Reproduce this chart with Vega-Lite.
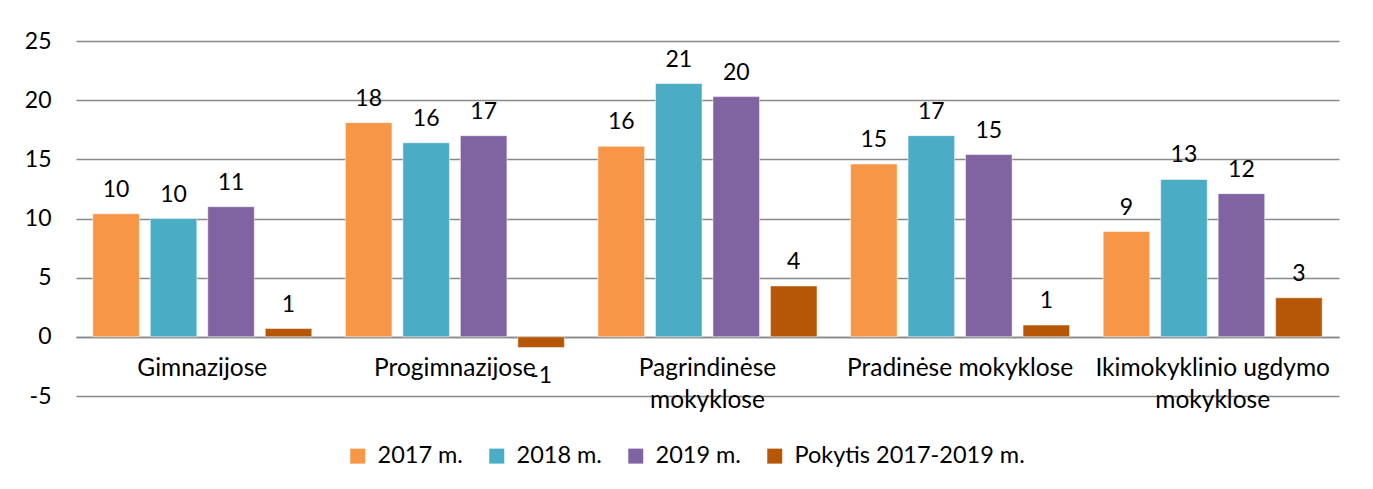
{
  "$schema": "https://vega.github.io/schema/vega-lite/v6.json",
  "autosize": "none",
  "width": 1263,
  "height": 355,
  "padding": {"left": 76, "top": 41, "right": 34, "bottom": 93},
  "background": "white",
  "config": {
    "font": "Lato",
    "view": {"stroke": null},
    "locale": {"number": {"decimal": ".", "thousands": ",", "grouping": [3], "currency": ["", ""], "minus": "-"}}
  },
  "data": {
    "values": [
      {"category": "Gimnazijose", "series": "2017 m.", "value": 10.4},
      {"category": "Gimnazijose", "series": "2018 m.", "value": 10.0},
      {"category": "Gimnazijose", "series": "2019 m.", "value": 11.0},
      {"category": "Gimnazijose", "series": "Pokytis 2017-2019 m.", "value": 0.7},
      {"category": "Progimnazijose", "series": "2017 m.", "value": 18.1},
      {"category": "Progimnazijose", "series": "2018 m.", "value": 16.4},
      {"category": "Progimnazijose", "series": "2019 m.", "value": 17.0},
      {"category": "Progimnazijose", "series": "Pokytis 2017-2019 m.", "value": -0.9},
      {"category": "Pagrindinėse mokyklose", "series": "2017 m.", "value": 16.1},
      {"category": "Pagrindinėse mokyklose", "series": "2018 m.", "value": 21.4},
      {"category": "Pagrindinėse mokyklose", "series": "2019 m.", "value": 20.3},
      {"category": "Pagrindinėse mokyklose", "series": "Pokytis 2017-2019 m.", "value": 4.3},
      {"category": "Pradinėse mokyklose", "series": "2017 m.", "value": 14.6},
      {"category": "Pradinėse mokyklose", "series": "2018 m.", "value": 17.0},
      {"category": "Pradinėse mokyklose", "series": "2019 m.", "value": 15.4},
      {"category": "Pradinėse mokyklose", "series": "Pokytis 2017-2019 m.", "value": 1.0},
      {"category": "Ikimokyklinio ugdymo mokyklose", "series": "2017 m.", "value": 8.9},
      {"category": "Ikimokyklinio ugdymo mokyklose", "series": "2018 m.", "value": 13.3},
      {"category": "Ikimokyklinio ugdymo mokyklose", "series": "2019 m.", "value": 12.1},
      {"category": "Ikimokyklinio ugdymo mokyklose", "series": "Pokytis 2017-2019 m.", "value": 3.3}
    ]
  },
  "encoding": {
    "x": {
      "field": "category",
      "type": "nominal",
      "sort": null,
      "scale": {"paddingInner": 0.133, "paddingOuter": 0.0665},
      "axis": {
        "title": null,
        "orient": "bottom",
        "offset": -59,
        "labelAngle": 0,
        "ticks": false,
        "domain": true,
        "domainColor": "#898989",
        "domainWidth": 1.5,
        "labelFont": "Lato",
        "labelFontSize": 24.5,
        "labelColor": "#000000",
        "labelPadding": 19,
        "labelLineHeight": 32,
        "labelLimit": 400,
        "labelExpr": "datum.label == 'Pagrindinėse mokyklose' ? ['Pagrindinėse', 'mokyklose'] : datum.label == 'Ikimokyklinio ugdymo mokyklose' ? ['Ikimokyklinio ugdymo', 'mokyklose'] : datum.label"
      }
    },
    "xOffset": {
      "field": "series",
      "type": "nominal",
      "sort": null,
      "scale": {"paddingInner": 0.19, "paddingOuter": 0}
    },
    "y": {
      "field": "value",
      "type": "quantitative",
      "scale": {"domain": [-5, 25], "nice": false, "zero": false},
      "axis": {
        "title": null,
        "values": [-5, 0, 5, 10, 15, 20, 25],
        "ticks": false,
        "domain": false,
        "grid": true,
        "gridColor": "#898989",
        "gridWidth": 1.5,
        "labelFont": "Lato",
        "labelFontSize": 23,
        "labelColor": "#000000",
        "labelPadding": 25
      }
    }
  },
  "layer": [
    {
      "mark": {"type": "bar", "stroke": "#ffffff", "strokeOpacity": 0.5, "strokeWidth": 1},
      "encoding": {
        "color": {
          "field": "series",
          "type": "nominal",
          "sort": null,
          "scale": {
            "domain": ["2017 m.", "2018 m.", "2019 m.", "Pokytis 2017-2019 m."],
            "range": ["#F79646", "#4BACC6", "#8064A2", "#B65708"]
          },
          "legend": {
            "title": null,
            "orient": "none",
            "direction": "horizontal",
            "legendX": 270,
            "legendY": 403,
            "symbolType": "square",
            "symbolSize": 225,
            "symbolStrokeWidth": 0,
            "symbolOpacity": 1,
            "labelFont": "Lato",
            "labelFontSize": 23.5,
            "labelColor": "#000000",
            "labelOffset": 8,
            "columnPadding": 22,
            "labelLimit": 400
          }
        }
      }
    },
    {
      "transform": [{"filter": "datum.value >= 0"}],
      "mark": {"type": "text", "baseline": "bottom", "dy": -12, "font": "Lato", "fontSize": 23, "color": "#000000"},
      "encoding": {"text": {"field": "value", "type": "quantitative", "format": ".0f"}}
    },
    {
      "transform": [{"filter": "datum.value < 0"}],
      "mark": {"type": "text", "baseline": "top", "dy": 18, "font": "Lato", "fontSize": 23, "color": "#000000"},
      "encoding": {"text": {"field": "value", "type": "quantitative", "format": ".0f"}}
    }
  ]
}
